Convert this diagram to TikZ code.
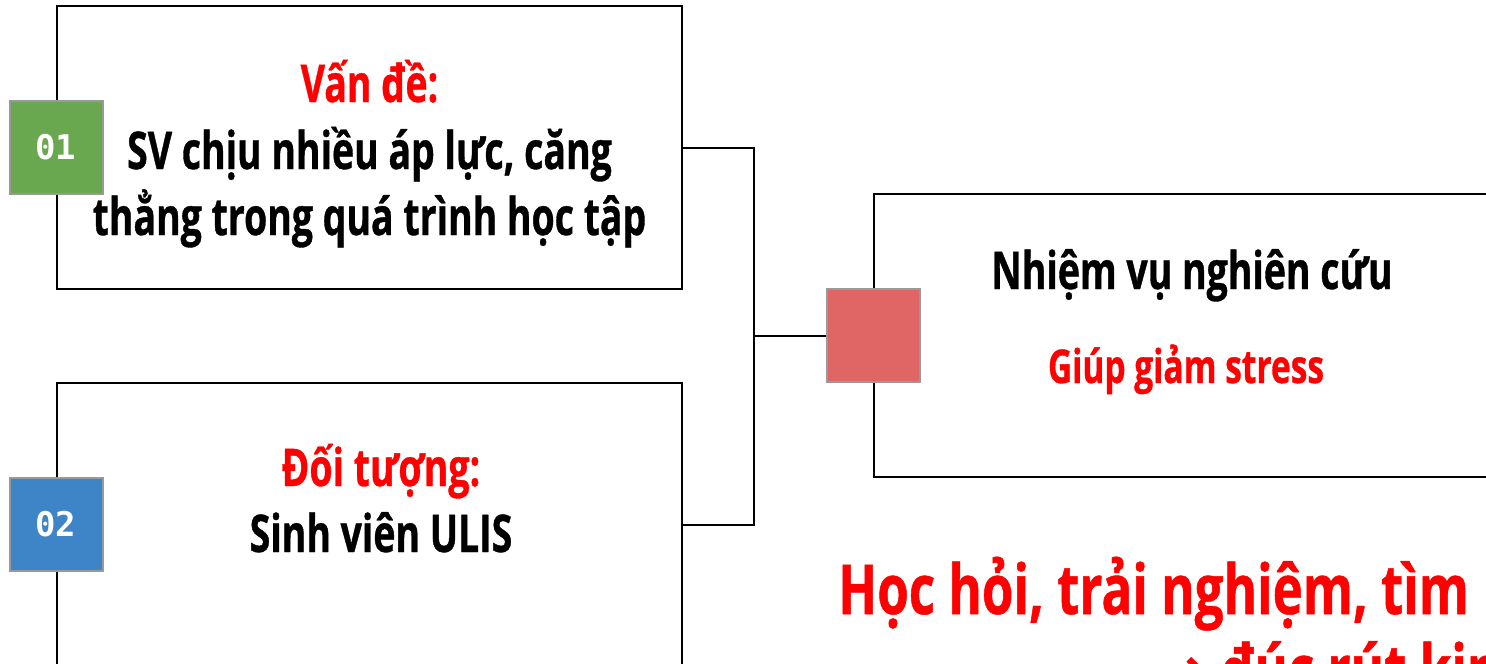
\documentclass[tikz,border=0pt]{standalone}
\usepackage{fontspec}
\newfontfamily\cond{Open Sans}[FakeStretch=0.72, FakeBold=0.7]
\newfontfamily\condwide{Open Sans}[FakeStretch=0.74, FakeBold=0.7]
\newfontfamily\mono{DejaVu Sans Mono}
\newfontfamily\arrowfont{DejaVu Sans}
\definecolor{numgreen}{HTML}{6AA84F}
\definecolor{numblue}{HTML}{3D85C6}
\definecolor{numred}{HTML}{E06666}
\definecolor{hired}{HTML}{FF0000}
\definecolor{edgegray}{HTML}{999999}
\begin{document}
\begin{tikzpicture}[x=1pt,y=-1pt,
  panel/.style={draw=black, line width=2pt, minimum width=625pt, minimum height=283pt, inner sep=0pt, fill=white},
  badge/.style={draw=edgegray, line width=2pt, minimum size=93pt, inner sep=0pt, text=white,
    font=\mono\bfseries\fontsize{34}{34}\selectfont},
  wire/.style={line width=2pt, black},
  txt/.style={anchor=base, inner sep=0pt, font=\cond\bfseries\fontsize{52}{62}\selectfont},
  smalltxt/.style={txt, font=\cond\bfseries\fontsize{46.5}{56}\selectfont},
  bigtxt/.style={txt, anchor=base west, text=hired, font=\condwide\bfseries\fontsize{69}{80}\selectfont},
]
\useasboundingbox (0,0) rectangle (1486,664);
\clip (0,0) rectangle (1486,664);
\fill[white] (0,0) rectangle (1486,664);

% three panels
\node[panel] (b1) at (369.5,147.5) {};
\node[panel] (b2) at (369.5,524.5) {};
\node[panel] (b3) at (1186.5,335.5) {};

% bracket joining the two left panels to the right one
\coordinate (j) at (754,335.5);
\draw[wire] (b1.east) -| (j) |- (b2.east);

% numbered badges on the left edges
\node[badge, fill=numgreen] (n1) at (b1.west) {01};
\node[badge, fill=numblue] (n2) at (b2.west) {02};
\node[badge, fill=numred] (n3) at (b3.west) {};
\draw[wire] (j) -- (n3.west);

% panel texts
\node[txt, text=hired] (t1a) at (369.5,102) {Vấn đề:};
\node[txt] (t1b) at (369.5,169) {SV chịu nhiều áp lực, căng};
\node[txt] (t1c) at (369.5,235) {thẳng trong quá trình học tập};
\node[txt, text=hired] (t2a) at (381,486) {Đối tượng:};
\node[txt] (t2b) at (381,552) {Sinh viên ULIS};
\node[txt] (t3a) at (1192,289) {Nhiệm vụ nghiên cứu};
\node[smalltxt, text=hired] (t3b) at (1186,383) {Giúp giảm stress};

% conclusion
\node[bigtxt] (t4a) at (838,614) {Học hỏi, trải nghiệm, tìm};
\node[bigtxt] (t4b) at (1150,694) {{\arrowfont\bfseries →} đúc rút kinh};
\end{tikzpicture}
\end{document}
